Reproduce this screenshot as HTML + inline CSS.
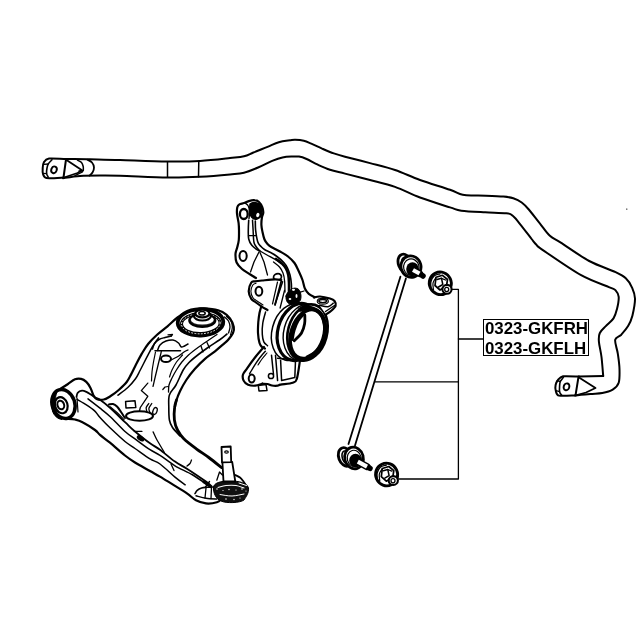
<!DOCTYPE html>
<html><head><meta charset="utf-8"><style>
html,body{margin:0;padding:0;background:#fff;width:640px;height:640px;overflow:hidden}
svg{position:absolute;left:0;top:0}
.lbl{position:absolute;left:483px;top:319.3px;width:104px;height:35.2px;border:1px solid #000;background:#fff;
font-family:"Liberation Sans",sans-serif;font-weight:bold;font-size:16.85px;line-height:19.2px;color:#000}
.lbl div{will-change:transform;position:absolute;left:1.0px;white-space:nowrap}
</style></head><body>
<svg width="640" height="640" viewBox="0 0 640 640" stroke="#000" stroke-linecap="round" stroke-linejoin="round" fill="none">
<path d="M66.0,159.0C70.0,159.1 81.0,159.1 90.0,159.3C99.0,159.5 107.2,159.6 120.0,160.0C132.8,160.4 153.7,161.3 167.0,161.5C180.3,161.7 189.5,161.6 200.0,161.0C210.5,160.4 222.7,158.9 230.0,158.1C237.3,157.3 240.1,157.2 244.0,156.3C247.9,155.4 249.5,154.1 253.4,152.5C257.3,150.9 263.3,148.6 267.5,146.9C271.7,145.2 275.1,143.3 278.8,142.2C282.6,141.1 287.2,140.7 290.0,140.3C292.8,139.9 293.0,139.7 295.3,139.8C297.6,139.9 301.1,140.2 303.8,140.8C306.5,141.4 308.2,142.3 311.3,143.6C314.4,144.9 318.8,147.2 322.5,148.8C326.2,150.4 330.1,152.1 333.8,153.4C337.6,154.7 339.0,155.1 345.0,156.7C351.0,158.3 361.7,160.9 370.0,163.1C378.3,165.3 386.7,167.2 395.0,170.0C403.3,172.8 410.8,176.7 420.0,180.0C429.2,183.3 442.9,187.3 450.0,189.8C457.1,192.3 458.0,193.9 462.7,194.8C467.4,195.8 471.3,195.2 478.1,195.5C484.9,195.8 497.5,196.1 503.4,196.6C509.3,197.1 510.2,197.3 513.3,198.3C516.3,199.3 519.1,200.6 521.7,202.5C524.3,204.4 525.8,206.0 528.8,209.5C531.8,213.0 536.5,219.3 540.0,223.6C543.5,227.9 546.1,232.3 549.6,235.5C553.1,238.7 554.2,238.4 560.8,242.7C567.4,246.9 580.1,256.1 589.2,261.0C598.3,265.9 609.5,269.2 615.6,272.1C621.7,275.0 623.1,275.7 625.8,278.2C628.5,280.7 630.4,283.9 631.9,287.3C633.4,290.7 634.9,293.9 635.0,298.6C635.1,303.4 633.5,311.2 632.4,315.8C631.2,320.4 630.0,323.0 628.1,326.1C626.2,329.2 623.4,332.4 621.3,334.7C619.1,337.0 615.8,336.6 615.2,339.8C614.6,343.0 617.1,348.7 617.8,353.6C618.5,358.5 619.4,364.1 619.5,369.0C619.6,373.9 619.8,379.4 618.7,382.8C617.6,386.2 615.4,388.0 612.7,389.7C610.0,391.4 606.0,392.4 602.3,393.1C598.6,393.8 594.8,393.6 590.3,394.0C585.8,394.4 577.5,395.2 575.0,395.5" stroke-width="2" fill="none" />
<path d="M63.0,178.2C65.8,177.8 73.8,176.4 80.0,176.0C86.2,175.6 93.3,175.6 100.0,175.6C106.7,175.6 108.8,175.5 120.0,175.8C131.2,176.1 154.2,177.3 167.5,177.5C180.8,177.7 189.6,177.3 200.0,176.8C210.4,176.3 222.7,175.2 230.0,174.5C237.3,173.8 239.3,173.9 244.0,172.7C248.7,171.5 253.4,169.5 258.1,167.5C262.8,165.5 268.1,162.6 272.2,160.9C276.3,159.2 279.3,158.1 282.5,157.4C285.7,156.7 288.9,156.6 291.6,156.5C294.4,156.4 296.5,156.2 299.0,156.6C301.5,157.0 303.5,157.7 306.6,159.0C309.7,160.3 313.9,162.9 317.8,164.7C321.7,166.5 325.5,168.3 330.0,169.8C334.5,171.3 338.3,171.9 345.0,173.6C351.7,175.3 361.7,177.8 370.0,180.0C378.3,182.2 386.7,184.0 395.0,186.9C403.3,189.8 410.8,194.1 420.0,197.5C429.2,200.9 443.1,205.2 450.0,207.4C456.9,209.6 455.4,209.9 461.3,210.7C467.2,211.5 477.7,211.9 485.2,212.3C492.7,212.7 501.9,212.8 506.3,213.3C510.8,213.8 510.0,213.9 511.9,215.2C513.8,216.4 514.2,216.8 517.5,220.8C520.8,224.8 528.5,235.0 531.6,239.0C534.8,243.0 534.6,242.9 536.4,244.7C538.2,246.5 535.0,244.7 542.5,249.8C550.0,254.9 569.9,268.9 581.1,275.2C592.3,281.4 603.8,284.8 609.5,287.3C615.2,289.8 614.1,288.8 615.6,290.4C617.1,292.0 618.5,293.8 618.7,296.9C618.9,300.0 617.9,305.3 617.0,308.9C616.1,312.5 615.4,315.5 613.5,318.4C611.6,321.3 608.1,323.7 605.8,326.1C603.5,328.5 600.9,330.4 599.8,333.0C598.6,335.6 598.6,337.6 598.9,341.6C599.2,345.6 600.8,351.3 601.5,357.0C602.2,362.7 602.9,372.8 603.2,376.0" stroke-width="2" fill="none" />
<path d="M603.2,376.0 L579.0,376.5" stroke-width="2" fill="none" />
<path d="M66.0,159.0C63.7,158.9 51.9,158.1 49.0,158.5C46.1,158.9 44.8,160.7 44.0,162.0C43.2,163.3 42.8,166.4 42.7,168.0C42.6,169.6 42.5,172.7 43.0,174.0C43.5,175.3 43.8,177.5 46.5,178.0C49.2,178.5 61.2,177.6 63.5,177.5" stroke-width="2" fill="none" />
<path d="M66.0,159.5 L63.5,177.5" stroke-width="2" fill="none" />
<path d="M52.0,159.8C51.4,160.5 49.1,162.4 48.3,163.8C47.5,165.2 47.3,166.4 47.0,168.0C46.7,169.6 46.4,172.0 46.6,173.5C46.8,175.0 47.9,176.4 48.2,177.0" stroke-width="1.6" fill="none" />
<path d="M43.8,164.4 L48.2,164.0" stroke-width="1.3" fill="none" />
<path d="M43.0,173.3 L46.6,173.7" stroke-width="1.3" fill="none" />
<ellipse cx="54" cy="169.8" rx="2.7" ry="3.4" stroke-width="1.9" fill="none" transform="rotate(20 54 169.8)"/>
<path d="M66.5,160.0 L82.0,170.3 L77.5,173.0 L64.0,177.5" stroke-width="1.8" fill="none" />
<path d="M77.5,160.2C78.2,160.6 80.5,161.4 81.5,162.5C82.5,163.6 82.9,165.2 83.2,166.5C83.5,167.8 83.3,169.8 83.3,170.5" stroke-width="1.5" fill="none" />
<path d="M87.5,159.8C88.2,160.2 90.9,161.2 92.0,162.5C93.1,163.8 93.9,165.8 94.0,167.5C94.1,169.2 93.2,171.2 92.5,172.5C91.8,173.8 90.0,175.1 89.5,175.6" stroke-width="1.8" fill="none" />
<path d="M79.0,171.0 L83.0,170.6 L82.5,171.8 L75.0,175.6" stroke-width="1.3" fill="none" />
<path d="M167.5,161.8 L167.5,177.3" stroke-width="1.5" fill="none" />
<path d="M198.8,161.2 L198.5,176.8" stroke-width="1.5" fill="none" />
<path d="M579.0,376.5C576.9,376.5 565.8,375.8 563.0,376.3C560.2,376.8 559.0,378.8 558.0,380.0C557.0,381.2 555.9,383.5 555.6,385.0C555.3,386.5 555.3,389.6 555.8,391.0C556.3,392.4 556.4,395.0 559.0,395.6C561.6,396.2 572.9,395.5 575.0,395.5" stroke-width="2" fill="none" />
<path d="M578.5,376.8 L575.5,395.3" stroke-width="2" fill="none" />
<path d="M563.4,377.3C562.9,378.0 560.9,380.1 560.3,381.5C559.7,382.9 559.7,384.3 559.6,386.0C559.5,387.7 559.3,390.3 559.6,391.8C559.9,393.3 561.2,394.5 561.5,395.0" stroke-width="1.6" fill="none" />
<path d="M557.0,380.6 L560.3,381.5" stroke-width="1.3" fill="none" />
<path d="M556.0,390.6 L559.6,391.6" stroke-width="1.3" fill="none" />
<ellipse cx="566.5" cy="386.8" rx="2.8" ry="3.5" stroke-width="1.9" fill="none" transform="rotate(20 566.5 386.8)"/>
<path d="M579.0,377.5 L595.5,388.0 L586.0,392.5 L576.0,395.3" stroke-width="1.8" fill="none" />
<circle cx="626.8" cy="209.1" r="0.7" fill="#000" stroke="none"/>
<path d="M451.3,289.3 L458.4,289.3 L458.4,479.0 L398.8,479.0" stroke-width="1.3" fill="none" />
<path d="M458.4,339.0 L483.0,339.0" stroke-width="1.3" fill="none" />
<path d="M374.7,381.9 L458.4,381.9" stroke-width="1.3" fill="none" />
<path d="M400.4,276.7 L348.5,444.0" stroke-width="1.8" fill="none" />
<path d="M405.9,278.4 L355.0,445.5" stroke-width="1.8" fill="none" />
<ellipse cx="405" cy="263.5" rx="6.6" ry="9.6" stroke-width="2.8" fill="#fff" transform="rotate(-20 405 263.5)"/>
<ellipse cx="406.2" cy="264.0" rx="4.2" ry="6.8" stroke-width="1.6" fill="none" transform="rotate(-20 406.2 264.0)"/>
<ellipse cx="411" cy="266.6" rx="10" ry="10.8" stroke-width="2.8" fill="#fff" transform="rotate(-15 411 266.6)"/>
<ellipse cx="411.3" cy="267.20000000000005" rx="7.7" ry="8.3" stroke-width="1.2" fill="none" transform="rotate(-15 411.3 267.20000000000005)"/>
<ellipse cx="412.5" cy="269.1" rx="6.3" ry="6.8" stroke-width="0" fill="#000" transform="rotate(0 412.5 269.1)"/>
<path d="M413.0,270.0 L419.5,273.5" stroke-width="7" fill="none" />
<path d="M419.5,273.5 L423.0,276.0" stroke-width="5.5" fill="none" />
<path d="M413,270L419.5,273.5" stroke="#fff" stroke-width="4.2" stroke-linecap="butt"/>
<ellipse cx="440.3" cy="283.3" rx="11.0" ry="11.4" stroke-width="2.8" fill="#fff" transform="rotate(-25 440.3 283.3)"/>
<path d="M431.0,289.0C431.0,287.8 430.3,284.2 430.8,282.0C431.3,279.8 432.5,277.4 434.0,276.0C435.5,274.6 439.0,274.2 440.0,273.8" stroke-width="1.4" fill="none" />
<path d="M433.5,290.0C433.4,288.8 432.6,285.1 433.0,283.0C433.4,280.9 435.5,278.4 436.0,277.5" stroke-width="1.2" fill="none" />
<path d="M436.0,277.3 L442.5,275.3 L447.5,279.5 L446.5,286.0 L440.0,290.0 L435.0,285.5Z" stroke-width="1.7" fill="#fff" />
<path d="M437.0,279.5 L441.5,278.3 L442.8,284.5 L438.5,287.0" stroke-width="1.5" fill="none" />
<path d="M441.5,278.3 L445.5,280.0" stroke-width="1.3" fill="none" />
<ellipse cx="447" cy="289.3" rx="4.6" ry="4.4" stroke-width="2.1" fill="#fff" transform="rotate(0 447 289.3)"/>
<ellipse cx="446.7" cy="289.5" rx="2.0" ry="2.1" stroke-width="1.3" fill="none" transform="rotate(0 446.7 289.5)"/>
<ellipse cx="345.3" cy="457" rx="6.6" ry="9.6" stroke-width="2.8" fill="#fff" transform="rotate(-20 345.3 457)"/>
<ellipse cx="346.5" cy="457.5" rx="4.2" ry="6.8" stroke-width="1.6" fill="none" transform="rotate(-20 346.5 457.5)"/>
<ellipse cx="354" cy="458" rx="9.3" ry="10.9" stroke-width="2.8" fill="#fff" transform="rotate(-15 354 458)"/>
<ellipse cx="354.3" cy="458.6" rx="7.000000000000001" ry="8.4" stroke-width="1.2" fill="none" transform="rotate(-15 354.3 458.6)"/>
<ellipse cx="355.5" cy="460.5" rx="6.3" ry="6.8" stroke-width="0" fill="#000" transform="rotate(0 355.5 460.5)"/>
<path d="M357.8,461.7 L367.0,466.6" stroke-width="7" fill="none" />
<path d="M367.0,466.6 L370.0,468.3" stroke-width="5.5" fill="none" />
<path d="M357.8,461.7L367,466.6" stroke="#fff" stroke-width="4.2" stroke-linecap="butt"/>
<ellipse cx="386.6" cy="474.5" rx="11.0" ry="11.4" stroke-width="2.8" fill="#fff" transform="rotate(-25 386.6 474.5)"/>
<path d="M377.3,480.2C377.3,479.0 376.6,475.4 377.1,473.2C377.6,471.0 378.8,468.6 380.3,467.2C381.8,465.8 385.3,465.4 386.3,465.0" stroke-width="1.4" fill="none" />
<path d="M379.8,481.2C379.7,480.0 378.9,476.3 379.3,474.2C379.7,472.1 381.8,469.6 382.3,468.7" stroke-width="1.2" fill="none" />
<path d="M382.3,468.5 L388.8,466.5 L393.8,470.7 L392.8,477.2 L386.3,481.2 L381.3,476.7Z" stroke-width="1.7" fill="#fff" />
<path d="M383.3,470.7 L387.8,469.5 L389.1,475.7 L384.8,478.2" stroke-width="1.5" fill="none" />
<path d="M387.8,469.5 L391.8,471.2" stroke-width="1.3" fill="none" />
<ellipse cx="393.3" cy="480.5" rx="4.6" ry="4.4" stroke-width="2.1" fill="#fff" transform="rotate(0 393.3 480.5)"/>
<ellipse cx="393.0" cy="480.7" rx="2.0" ry="2.1" stroke-width="1.3" fill="none" transform="rotate(0 393.0 480.7)"/>
<path d="M261,306 C258.5,315 257.5,328 258.3,338 C259,344 261,347 265,348 L300,362 L318,340 L318,300 L290,296 Z" stroke-width="0" fill="#fff" />
<ellipse cx="292.5" cy="332" rx="20.5" ry="29" stroke-width="1.5" fill="#fff" transform="rotate(15 292.5 332)"/>
<ellipse cx="298.3" cy="332" rx="20.5" ry="29" stroke-width="3.2" fill="#fff" transform="rotate(15 298.3 332)"/>
<ellipse cx="304.3" cy="332.5" rx="20.5" ry="28.6" stroke-width="1.4" fill="#fff" transform="rotate(15 304.3 332.5)"/>
<ellipse cx="307.5" cy="332.5" rx="19.5" ry="28.6" stroke-width="2.6" fill="#fff" transform="rotate(15 307.5 332.5)"/>
<ellipse cx="307.5" cy="334" rx="16.3" ry="25.3" stroke-width="3.6" fill="#fff" transform="rotate(18 307.5 334)"/>
<path d="M300.0,309.8C301.2,309.5 304.8,308.0 307.0,307.8C309.2,307.6 311.4,308.0 313.5,308.8C315.6,309.6 317.8,310.8 319.5,312.5C321.2,314.2 322.6,316.4 323.5,319.0C324.4,321.6 325.1,324.8 325.2,328.0C325.3,331.2 325.0,334.9 324.3,338.0C323.6,341.1 322.4,343.9 320.8,346.5C319.2,349.1 316.7,351.5 314.5,353.3C312.3,355.1 308.7,356.6 307.5,357.3" stroke-width="4" fill="none" />
<path d="M303.8,314.0C302.9,315.1 299.8,317.9 298.2,320.6C296.6,323.3 295.2,326.9 294.2,330.0C293.2,333.1 292.6,337.9 292.3,339.5" stroke-width="2.8" fill="none" />
<path d="M304.8,315.0C304.8,316.5 305.2,320.8 304.6,323.8C304.1,326.8 303.2,330.2 301.5,333.0C299.8,335.8 295.4,339.5 294.2,340.8" stroke-width="2.8" fill="none" />
<path d="M261.3,306.3C261.0,307.4 260.0,310.4 259.5,313.0C259.0,315.6 258.6,318.7 258.3,322.0C258.1,325.3 257.8,329.5 258.0,333.0C258.2,336.5 258.8,340.7 259.5,343.0C260.2,345.3 261.1,346.1 262.0,347.0C262.9,347.9 264.5,348.2 265.0,348.5" stroke-width="2.2" fill="none" />
<path d="M265.6,311.9C265.1,313.8 263.4,319.2 262.8,323.0C262.2,326.8 262.1,331.2 262.3,334.4C262.5,337.5 262.9,340.0 263.8,341.9C264.7,343.8 266.9,345.0 267.5,345.6" stroke-width="1.5" fill="none" />
<path d="M256.0,278.0C254.8,277.2 250.8,274.9 248.5,273.4C246.2,271.9 244.0,270.8 242.0,269.0C240.0,267.2 237.7,265.0 236.6,262.5C235.5,260.0 235.4,256.4 235.5,253.8C235.6,251.2 236.8,249.3 237.3,247.0C237.9,244.7 238.5,242.8 238.8,240.0C239.1,237.2 239.0,232.8 239.0,230.0C239.0,227.2 238.9,225.7 238.6,223.0C238.3,220.3 237.2,216.3 237.0,213.7C236.8,211.1 236.9,208.8 237.3,207.2C237.7,205.6 238.3,205.1 239.4,204.4C240.5,203.7 242.4,203.6 244.0,203.0C245.6,202.4 247.1,201.6 248.8,201.1C250.5,200.6 252.7,200.0 254.4,200.2C256.1,200.3 257.7,200.8 259.0,202.0C260.3,203.2 261.6,205.4 262.3,207.2C263.0,209.0 263.4,211.1 263.3,212.8C263.2,214.5 262.2,215.5 261.9,217.5C261.6,219.5 261.3,222.6 261.4,225.0C261.5,227.4 262.0,229.6 262.5,232.0C263.0,234.4 263.7,237.5 264.5,239.5C265.3,241.5 266.4,242.8 267.5,244.0C268.6,245.2 269.2,245.8 271.3,247.0C273.4,248.2 277.2,249.9 280.0,251.5C282.8,253.1 285.6,254.6 288.0,256.5C290.4,258.4 292.7,260.5 294.5,263.0C296.3,265.5 297.5,268.5 298.8,271.3C300.1,274.1 301.5,277.1 302.5,280.0C303.5,282.9 303.9,286.5 305.0,288.8C306.1,291.1 307.1,292.4 308.8,293.8C310.5,295.2 314.0,296.9 315.0,297.5" stroke-width="2.2" fill="none" />
<path d="M314.0,297.5C315.0,297.3 317.3,296.3 320.0,296.5C322.7,296.7 327.6,297.8 330.0,298.5C332.4,299.2 333.6,299.8 334.5,301.0C335.4,302.2 336.2,304.3 335.6,306.0C335.0,307.7 332.6,309.6 331.0,311.0C329.4,312.4 326.8,313.9 326.0,314.5" stroke-width="2.2" fill="#fff" />
<ellipse cx="322.8" cy="301.1" rx="3.9" ry="1.6" stroke-width="1.6" fill="none" transform="rotate(0 322.8 301.1)"/>
<ellipse cx="322.8" cy="301.3" rx="5.6" ry="2.9" stroke-width="1.1" fill="none" transform="rotate(0 322.8 301.3)"/>
<path d="M319.6,305.3C321.0,305.5 325.7,307.1 328.0,306.7C330.3,306.3 332.4,303.8 333.3,303.2" stroke-width="1.5" fill="none" />
<path d="M325.5,311.5 L334.5,305.5" stroke-width="1.4" fill="none" />
<ellipse cx="243.8" cy="214" rx="3.9" ry="5" stroke-width="2.3" fill="none" transform="rotate(0 243.8 214)"/>
<path d="M245.0,203.0C245.6,203.5 247.6,204.5 248.3,206.0C249.1,207.5 249.4,209.9 249.5,212.0C249.6,214.1 249.1,217.4 249.0,218.5" stroke-width="1.4" fill="none" />
<ellipse cx="243.1" cy="255.9" rx="3.6" ry="5" stroke-width="2" fill="none" transform="rotate(0 243.1 255.9)"/>
<path d="M250,204 C254,201 260,203 261.5,208 C263,214 261,218 257,219 C253,220 249.5,216 249.5,211 Z" stroke-width="1.5" fill="#000" />
<ellipse cx="257.8" cy="215" rx="1.6" ry="2.2" stroke-width="0" fill="#fff" transform="rotate(20 257.8 215)"/>
<path d="M248.7,220.3C248.6,221.9 248.3,226.6 248.3,229.7C248.3,232.8 248.1,236.4 248.7,239.0C249.3,241.6 250.5,243.6 251.8,245.3C253.1,247.0 255.2,248.4 256.5,249.3C257.8,250.2 259.1,250.6 259.6,250.8" stroke-width="1.6" fill="none" />
<path d="M252.5,220.3C252.6,221.9 252.9,226.4 253.1,230.0C253.3,233.6 253.4,239.2 253.9,242.0C254.4,244.8 255.1,245.0 256.0,246.5C256.9,248.0 259.0,250.1 259.6,250.8" stroke-width="1.5" fill="none" />
<path d="M248.5,235.6 L256.3,235.6" stroke-width="1.3" fill="none" />
<path d="M255.3,221.0C255.4,222.5 255.2,226.5 255.6,230.0C256.0,233.5 256.9,239.2 257.8,242.0C258.7,244.8 259.9,245.2 261.0,246.5C262.1,247.8 263.0,248.5 264.5,249.5C266.0,250.5 268.0,251.2 270.0,252.3C272.0,253.4 274.0,254.3 276.3,256.0C278.6,257.7 281.9,260.5 283.8,262.5C285.7,264.5 286.5,265.9 287.5,268.0C288.5,270.1 289.4,272.5 290.0,275.0C290.6,277.5 291.1,280.3 291.3,283.0C291.6,285.7 291.5,289.7 291.5,291.0" stroke-width="1.6" fill="none" />
<path d="M259.6,250.8C260.8,251.5 264.4,253.6 267.0,255.0C269.6,256.4 273.0,258.0 275.3,259.4C277.6,260.8 280.1,262.8 281.0,263.5" stroke-width="1.3" fill="none" />
<path d="M276.0,259.0C277.0,259.8 280.3,261.9 282.0,263.5C283.7,265.1 284.9,266.6 286.0,268.5C287.1,270.4 287.8,272.6 288.3,275.0C288.8,277.4 288.9,280.2 289.0,283.0C289.1,285.8 289.0,290.5 289.0,292.0" stroke-width="2.6" fill="none" />
<path d="M273.5,262.0C274.5,262.8 277.9,265.2 279.5,267.0C281.1,268.8 282.1,270.7 283.0,273.0C283.9,275.3 284.3,277.8 284.6,281.0C284.9,284.2 284.9,290.2 285.0,292.0" stroke-width="1.3" fill="none" />
<path d="M260.0,252.5 L264.0,262.0 L267.5,275.0" stroke-width="1.3" fill="none" />
<path d="M259.0,252.0 L254.0,262.0 L250.5,272.0" stroke-width="1.3" fill="none" />
<ellipse cx="277.5" cy="277" rx="4" ry="3.3" stroke-width="1.8" fill="#fff" transform="rotate(-20 277.5 277)"/>
<path d="M275.0,279.5 L276.0,283.0" stroke-width="1.3" fill="none" />
<path d="M286,296 C287,292 290,290 292,289 C294,287.5 298,287.8 299.5,290.5 C301,293 301.5,297 300.5,300 C299,303 295,304.5 291,304.3 C288,304 285.5,301 286,296 Z" stroke-width="1" fill="#000" />
<ellipse cx="293.5" cy="289.8" rx="1.6" ry="1.1" stroke-width="0" fill="#fff" transform="rotate(0 293.5 289.8)"/>
<ellipse cx="296.5" cy="296" rx="1" ry="2" stroke-width="0" fill="#fff" transform="rotate(0 296.5 296)"/>
<ellipse cx="290" cy="299" rx="1.3" ry="1" stroke-width="0" fill="#fff" transform="rotate(0 290 299)"/>
<path d="M299.5,292.4 L304.0,291.0" stroke-width="1.3" fill="none" />
<path d="M282.6,281.8 L275.1,304.3" stroke-width="1.5" fill="none" />
<path d="M284.5,290.5 L280.1,308.0" stroke-width="1.3" fill="none" />
<path d="M281.3,280.0C280.2,279.9 278.2,279.3 275.0,279.4C271.8,279.5 265.3,280.2 262.0,280.5C258.7,280.8 256.8,281.0 255.0,281.3C253.2,281.6 252.4,280.8 251.3,282.5C250.2,284.2 248.7,288.6 248.7,291.3C248.7,294.0 250.1,296.9 251.3,298.8C252.5,300.7 254.3,301.2 256.0,302.5C257.7,303.8 259.4,305.1 261.3,306.3C263.2,307.6 266.5,309.4 267.5,310.0" stroke-width="2.2" fill="#fff" />
<path d="M281.3,281.0 L275.0,305.0" stroke-width="1.8" fill="none" />
<path d="M277.5,282.0 L272.5,304.0" stroke-width="1.2" fill="none" />
<path d="M256.0,283.3C255.5,283.6 253.7,283.7 252.8,285.0C252.0,286.3 250.9,289.2 250.9,291.3C250.9,293.4 251.8,295.9 252.8,297.5C253.8,299.1 255.3,299.8 257.0,301.0C258.7,302.2 262.0,304.3 263.0,305.0" stroke-width="1.1" fill="none" />
<ellipse cx="258.9" cy="291.3" rx="3.4" ry="4.5" stroke-width="2" fill="none" transform="rotate(0 258.9 291.3)"/>
<path d="M264.0,347.0C262.5,348.7 258.0,353.7 255.2,357.3C252.4,360.9 249.1,365.5 247.1,368.4C245.1,371.3 243.6,372.5 243.0,374.5C242.4,376.5 242.8,378.9 243.6,380.6C244.4,382.3 246.2,383.9 248.1,384.7C250.0,385.5 252.8,385.9 255.2,385.7C257.6,385.5 261.1,384.0 262.3,383.7" stroke-width="2.2" fill="#fff" />
<path d="M262.3,383.7C263.1,383.8 265.8,383.7 267.4,384.0C269.0,384.3 270.3,385.2 272.0,385.5C273.7,385.8 276.2,385.8 277.6,385.7C279.0,385.6 278.1,385.2 280.6,384.7C283.1,384.2 290.1,383.7 292.8,382.7C295.5,381.7 295.7,382.3 296.9,378.6C298.1,374.9 299.5,363.4 300.0,360.3" stroke-width="2.2" fill="none" />
<path d="M265.4,351.2C264.5,352.2 261.7,355.3 260.0,357.5C258.3,359.7 256.6,362.2 255.2,364.4C253.8,366.6 252.4,368.9 251.5,370.5C250.6,372.1 249.8,373.4 249.5,374.0" stroke-width="1.4" fill="none" />
<path d="M267.0,353.0C266.2,354.0 263.5,357.0 262.0,359.0C260.5,361.0 258.7,364.0 258.0,365.0" stroke-width="1.1" fill="none" />
<ellipse cx="251.7" cy="378.6" rx="3" ry="4" stroke-width="2" fill="none" transform="rotate(0 251.7 378.6)"/>
<path d="M271.5,355.2 L273.5,374.5" stroke-width="1.5" fill="none" />
<path d="M275.5,355.2 L277.6,380.6" stroke-width="1.5" fill="none" />
<path d="M277.6,358.3 L300.0,360.3" stroke-width="1.5" fill="none" />
<path d="M280.6,360.3 L281.6,380.6 L294.8,377.6 L295.5,361.0" stroke-width="1.5" fill="none" />
<ellipse cx="271" cy="376" rx="2.6" ry="2.6" stroke-width="1.5" fill="#fff" transform="rotate(0 271 376)"/>
<path d="M258.3,385.5 L266.0,384.5 L267.0,390.5 L259.0,391.0Z" stroke-width="1.5" fill="#fff" />
<path d="M93.0,394.8C93.6,395.5 94.8,398.2 96.6,399.0C98.4,399.8 101.5,399.9 103.8,399.5C106.1,399.1 107.8,397.9 110.3,396.3C112.8,394.7 116.3,392.1 119.0,389.7C121.7,387.3 124.7,384.6 126.7,382.0C128.7,379.4 129.5,377.3 131.1,374.4C132.7,371.5 134.2,368.0 136.0,364.5C137.8,361.0 139.8,357.1 141.8,353.6C143.9,350.2 145.8,346.9 148.3,343.8C150.8,340.7 153.6,337.9 156.8,335.0C160.0,332.1 164.1,329.2 167.5,326.3C170.9,323.4 174.2,319.9 177.5,317.5C180.8,315.1 183.2,313.5 187.0,312.0C190.8,310.5 195.8,309.0 200.0,308.5C204.2,308.0 208.2,308.4 212.0,309.0C215.8,309.6 219.5,310.4 222.5,312.0C225.5,313.6 228.1,316.0 230.0,318.5C231.9,321.0 233.3,324.6 233.8,327.0C234.3,329.4 234.0,330.8 233.0,333.0C232.0,335.2 229.5,338.2 228.0,340.0C226.5,341.8 226.0,341.9 223.8,343.8C221.6,345.7 218.1,348.8 215.0,351.3C211.9,353.8 208.3,355.9 205.0,358.8C201.7,361.7 198.1,365.3 195.0,368.8C191.9,372.3 188.8,376.2 186.3,380.0C183.8,383.8 181.6,388.0 180.0,391.3C178.4,394.6 177.4,397.3 176.5,400.0C175.6,402.7 175.1,406.2 174.8,407.5" stroke-width="2.2" fill="none" />
<path d="M176.5,400.0C176.2,401.2 174.9,404.2 174.6,407.5C174.2,410.8 173.9,416.2 174.4,420.0C174.9,423.8 175.9,426.9 177.5,430.0C179.1,433.1 180.7,435.7 183.8,438.8C186.9,441.9 192.1,445.7 196.3,448.8C200.5,451.9 204.6,454.4 208.8,457.5C213.0,460.6 219.2,465.8 221.3,467.5" stroke-width="2.8" fill="none" />
<path d="M67.0,418.8C68.3,418.9 72.4,418.9 75.0,419.5C77.6,420.1 79.2,420.4 82.5,422.2C85.8,423.9 92.1,427.9 95.0,430.0C97.9,432.1 97.5,432.8 100.0,434.9C102.5,437.0 105.8,439.3 110.0,442.7C114.2,446.1 120.8,452.2 125.0,455.5C129.2,458.8 130.8,459.9 135.0,462.5C139.2,465.1 145.8,468.6 150.0,471.0C154.2,473.4 155.8,474.1 160.0,476.6C164.2,479.1 170.4,483.1 175.0,485.9C179.6,488.7 183.8,491.2 187.3,493.6C190.8,496.0 192.9,498.6 196.0,500.2C199.1,501.8 202.5,503.0 206.0,503.4C209.5,503.8 214.3,503.0 216.9,502.3C219.5,501.6 220.6,499.6 221.3,499.0" stroke-width="2.2" fill="none" />
<path d="M60.5,388.8C61.8,388.0 65.6,385.6 68.0,384.0C70.4,382.4 72.8,380.2 75.0,379.3C77.2,378.4 79.2,378.5 81.1,378.9C83.0,379.3 84.7,380.4 86.3,381.9C87.9,383.4 89.4,385.8 90.5,387.9C91.6,390.0 92.7,393.6 93.1,394.8" stroke-width="2.2" fill="none" />
<ellipse cx="63.5" cy="404" rx="11.3" ry="14.8" stroke-width="3.5" fill="#fff" transform="rotate(-18 63.5 404)"/>
<ellipse cx="61.3" cy="405.2" rx="6.2" ry="8.2" stroke-width="2.2" fill="none" transform="rotate(-18 61.3 405.2)"/>
<path d="M57.5,391 C52,395 51,404 52.5,411 C54,416 58,419 62,419.5 C57,415 54.5,409 55,401 C55.5,396 56.5,393 57.5,391 Z" stroke-width="1" fill="#000" />
<ellipse cx="60.8" cy="405" rx="3.3" ry="4.4" stroke-width="2" fill="none" transform="rotate(-18 60.8 405)"/>
<path d="M77.0,398.0 L78.0,412.0" stroke-width="1.2" fill="none" />
<path d="M76.5,397.0C76.7,396.3 76.8,393.9 77.7,392.8C78.6,391.8 80.5,390.9 82.0,390.7C83.5,390.5 84.9,391.2 86.4,391.8C87.9,392.4 89.4,393.6 90.8,394.5C92.2,395.4 93.5,396.6 95.0,397.5C96.5,398.4 97.5,398.1 100.0,399.8C102.5,401.5 105.8,404.1 110.0,407.8C114.2,411.5 120.8,418.2 125.0,422.2C129.2,426.1 130.8,428.0 135.0,431.5C139.2,435.0 145.8,440.3 150.0,443.3C154.2,446.3 155.8,446.6 160.0,449.7C164.2,452.8 170.4,458.4 175.0,461.6C179.6,464.8 182.1,465.7 187.3,469.0C192.5,472.3 202.0,478.8 206.0,481.6C210.0,484.4 210.5,485.3 211.4,486.0" stroke-width="1.8" fill="none" />
<path d="M88.0,398.9C90.0,400.4 96.3,405.3 100.0,408.2C103.7,411.1 105.8,412.6 110.0,416.5C114.2,420.4 120.8,427.8 125.0,431.5C129.2,435.2 130.8,435.9 135.0,438.9C139.2,441.9 145.8,447.0 150.0,449.7C154.2,452.4 155.8,452.6 160.0,455.3C164.2,458.0 169.5,462.5 175.0,465.8C180.5,469.1 187.1,471.6 192.8,475.0C198.5,478.4 206.5,484.2 209.2,486.0" stroke-width="1.5" fill="none" />
<path d="M77.1,399.4C78.6,400.3 83.5,403.0 86.4,404.9C89.3,406.8 92.3,408.8 94.6,410.9C96.9,413.0 97.4,414.7 100.0,417.5C102.6,420.3 105.8,423.8 110.0,427.8C114.2,431.8 120.8,438.1 125.0,441.5C129.2,444.9 130.8,445.6 135.0,448.5C139.2,451.4 145.8,456.3 150.0,458.9C154.2,461.5 155.8,461.0 160.0,464.0C164.2,467.0 170.8,473.6 175.0,477.1C179.2,480.6 183.5,483.5 185.2,484.8" stroke-width="1.5" fill="none" />
<path d="M109.0,404.5C109.7,404.4 111.7,403.7 113.0,404.0C114.3,404.3 115.7,405.2 117.0,406.5C118.3,407.8 119.7,410.1 121.0,412.0C122.3,413.9 124.3,417.0 125.0,418.0" stroke-width="2" fill="none" />
<path d="M110.5,407.0C111.6,407.9 114.8,410.4 117.0,412.5C119.2,414.6 122.8,418.3 124.0,419.5" stroke-width="1.2" fill="none" />
<ellipse cx="140.5" cy="438.3" rx="4.2" ry="2.4" stroke-width="0" fill="#000" transform="rotate(35 140.5 438.3)"/>
<path d="M134.4,431.4 L141.9,431.4" stroke-width="1.3" fill="none" />
<path d="M153.1,431.9C153.8,433.2 155.1,436.6 157.0,440.0C158.9,443.4 163.2,450.4 164.4,452.5" stroke-width="1.3" fill="none" />
<path d="M203.6,481.8 L211.0,486.8" stroke-width="2.6" fill="none" />
<path d="M205.5,487.0 L209.5,481.5" stroke-width="1.4" fill="none" />
<path d="M195.0,493.6C195.4,493.1 196.1,491.2 197.2,490.3C198.3,489.4 200.0,488.6 201.6,488.1C203.2,487.6 205.2,487.5 207.0,487.3C208.8,487.1 211.6,487.1 212.5,487.0" stroke-width="1.6" fill="none" />
<path d="M196.0,495.8C197.7,496.2 202.5,497.7 206.0,498.2C209.5,498.7 215.1,498.9 216.9,499.0" stroke-width="1.4" fill="none" />
<path d="M206.0,488.0 L205.0,498.0" stroke-width="1.3" fill="none" />
<path d="M211.5,487.5 L211.0,498.5" stroke-width="1.3" fill="none" />
<path d="M171.0,464.0 L174.0,470.6" stroke-width="1.3" fill="none" />
<path d="M187.0,466.0C187.5,465.6 189.2,464.5 190.0,463.5C190.8,462.5 191.2,460.6 191.5,460.0" stroke-width="1.3" fill="none" />
<path d="M118.0,395.2C119.6,393.9 124.9,390.2 127.8,387.5C130.7,384.8 133.4,381.7 135.5,378.8C137.6,375.9 138.4,373.6 140.3,370.0C142.2,366.4 145.0,360.7 147.0,356.9C149.0,353.1 150.4,350.2 152.3,347.0C154.2,343.8 157.5,339.3 158.5,337.8" stroke-width="1.5" fill="none" />
<path d="M153.0,386.4C153.4,384.8 154.3,380.7 155.2,377.0C156.1,373.3 157.4,367.7 158.3,364.0C159.2,360.3 160.0,357.1 160.5,355.0C161.0,352.9 161.2,352.1 161.3,351.5" stroke-width="1.3" fill="none" />
<path d="M227.0,334.0C225.7,335.0 222.6,337.8 219.4,340.0C216.2,342.2 211.6,345.0 208.0,347.5C204.4,350.0 201.0,352.5 197.8,355.0C194.6,357.5 191.4,360.0 189.0,362.5C186.6,365.0 185.4,366.2 183.2,370.0C181.0,373.8 178.3,380.8 176.0,385.0C173.7,389.2 170.6,391.2 169.4,395.0C168.2,398.8 168.8,403.3 168.8,407.5C168.8,411.7 168.8,416.7 169.4,420.0C170.0,423.3 170.7,424.8 172.5,427.5C174.3,430.2 178.8,434.6 180.0,436.0" stroke-width="1.6" fill="none" />
<path d="M217.0,334.5C215.6,335.4 212.0,337.8 208.8,340.0C205.6,342.2 201.4,345.0 198.0,347.5C194.6,350.0 191.2,352.5 188.5,355.0C185.8,357.5 183.5,360.0 181.5,362.5C179.5,365.0 178.0,367.4 176.4,370.0C174.8,372.6 173.2,375.5 172.0,378.0C170.8,380.5 169.6,382.7 169.0,385.0C168.4,387.3 168.6,390.8 168.5,392.0" stroke-width="1.3" fill="none" />
<path d="M182.5,355.0C181.5,356.2 178.2,359.5 176.5,362.0C174.8,364.5 173.2,367.5 172.0,370.0C170.8,372.5 169.9,375.8 169.5,377.0" stroke-width="1.2" fill="none" />
<path d="M201.0,346.0 L203.0,352.0" stroke-width="1.3" fill="none" />
<path d="M207.0,342.5 L209.5,348.0" stroke-width="1.3" fill="none" />
<ellipse cx="139.5" cy="416" rx="13.5" ry="4.7" stroke-width="2" fill="#fff" transform="rotate(0 139.5 416)"/>
<path d="M125.6,401.5 L135.0,400.8 L135.8,407.5 L126.0,408.0Z" stroke-width="1.5" fill="none" />
<path d="M148.8,403.5C148.4,404.2 146.5,406.2 146.2,407.5C145.9,408.8 146.8,410.8 146.9,411.5" stroke-width="1.3" fill="none" />
<path d="M151.8,403.5C151.3,404.3 149.2,406.8 148.9,408.4C148.6,410.0 150.0,412.5 150.2,413.3" stroke-width="1.3" fill="none" />
<ellipse cx="155" cy="411" rx="2" ry="3.6" stroke-width="1.3" fill="none" transform="rotate(20 155 411)"/>
<path d="M147.8,383.1 L141.3,390.6 L147.8,396.3 L140.3,407.5 L139.5,411.0" stroke-width="1.3" fill="none" />
<path d="M162.8,389.5 L165.0,387.0 L168.4,386.5" stroke-width="1.2" fill="none" />
<path d="M155.5,352.0C155.2,353.7 154.1,358.7 153.5,362.0C152.9,365.3 152.3,368.8 152.0,372.0C151.7,375.2 151.6,379.5 151.5,381.0" stroke-width="1.2" fill="none" />
<path d="M152.5,349.0C152.8,348.1 153.4,345.1 154.5,343.5C155.6,341.9 157.2,340.5 159.0,339.5C160.8,338.5 162.9,338.1 165.0,337.5C167.1,336.9 170.2,336.2 171.3,336.0" stroke-width="1.5" fill="none" />
<path d="M171.3,336.0 L172.5,334.5 L168.0,334.8" stroke-width="1.3" fill="none" />
<path d="M157.5,350.5C157.9,349.6 158.6,346.6 160.0,345.0C161.4,343.4 163.8,341.8 166.0,341.0C168.2,340.2 170.9,339.7 173.0,340.0C175.1,340.3 177.1,341.8 178.5,343.0C179.9,344.2 180.3,346.5 181.3,347.0C182.3,347.5 183.4,346.5 184.5,346.0C185.6,345.5 187.4,344.3 188.0,344.0" stroke-width="1.5" fill="none" />
<path d="M155.0,350.8 L180.5,350.8" stroke-width="1.5" fill="none" />
<ellipse cx="166" cy="358.8" rx="5" ry="3.3" stroke-width="2" fill="#fff" transform="rotate(0 166 358.8)"/>
<path d="M171.0,360.0C172.0,359.5 174.8,358.3 177.0,357.0C179.2,355.7 182.2,353.2 184.0,352.0C185.8,350.8 187.3,350.3 188.0,350.0" stroke-width="1.3" fill="none" />
<ellipse cx="200.5" cy="322.3" rx="22.8" ry="13.2" stroke-width="3.8" fill="#fff" transform="rotate(-2 200.5 322.3)"/>
<ellipse cx="200.8" cy="323.5" rx="19.3" ry="10.1" stroke-width="3" fill="#fff" transform="rotate(-2 200.8 323.5)"/>
<ellipse cx="200.8" cy="323.7" rx="19.3" ry="10.1" stroke="#fff" stroke-width="0.9" stroke-dasharray="1 2.2" fill="none" transform="rotate(-2 200.8 323.7)"/>
<ellipse cx="202.3" cy="320.5" rx="13" ry="6.3" stroke-width="2.2" fill="#222" transform="rotate(0 202.3 320.5)"/>
<ellipse cx="202.3" cy="319.8" rx="11.5" ry="4.8" stroke-width="0" fill="#fff" transform="rotate(0 202.3 319.8)"/>
<ellipse cx="202.4" cy="316" rx="8.5" ry="4.5" stroke-width="2.2" fill="#fff" transform="rotate(0 202.4 316)"/>
<ellipse cx="202.4" cy="313.5" rx="7" ry="3.9" stroke-width="2.2" fill="#fff" transform="rotate(0 202.4 313.5)"/>
<ellipse cx="202" cy="313.2" rx="3.2" ry="1.8" stroke-width="1.5" fill="none" transform="rotate(0 202 313.2)"/>
<path d="M224.5,317.0C225.2,317.7 227.6,319.3 228.5,321.0C229.4,322.7 230.0,325.0 230.0,327.0C230.0,329.0 228.8,332.0 228.5,333.0" stroke-width="1.3" fill="none" />
<path d="M226.5,316.5C227.2,317.2 230.0,319.2 231.0,321.0C232.0,322.8 232.4,325.2 232.3,327.5C232.2,329.8 230.8,333.8 230.5,335.0" stroke-width="1.2" fill="none" />
<path d="M235.3,475.0C236.1,475.4 238.6,476.4 240.0,477.5C241.4,478.6 242.3,479.9 243.5,481.5C244.7,483.1 246.6,486.4 247.2,487.4" stroke-width="1.8" fill="none" />
<path d="M213.5,487 C214,483 220,481 230,481 C240,481 247,483 248.5,488 C249,493 246,497 244,500 C240,503 226,503.5 221,501 C216,499 213,493 213.5,487 Z" stroke-width="1" fill="#111" />
<path stroke="#fff" d="M218.0,487.5C219.3,487.2 223.0,485.8 226.0,485.5C229.0,485.2 233.0,485.1 236.0,485.5C239.0,485.9 242.7,487.6 244.0,488.0" stroke-width="1.1" fill="none" />
<path stroke="#fff" d="M220.0,494.5C222.0,494.8 228.0,496.1 232.0,496.0C236.0,495.9 242.0,494.3 244.0,494.0" stroke-width="1.0" fill="none" />
<circle cx="217" cy="489" r="0.72" fill="#fff" stroke="none"/>
<circle cx="223" cy="490.5" r="0.60" fill="#fff" stroke="none"/>
<circle cx="229" cy="489.5" r="0.66" fill="#fff" stroke="none"/>
<circle cx="236" cy="490" r="0.60" fill="#fff" stroke="none"/>
<circle cx="242" cy="489" r="0.72" fill="#fff" stroke="none"/>
<circle cx="246" cy="491" r="0.54" fill="#fff" stroke="none"/>
<circle cx="226" cy="499" r="0.72" fill="#fff" stroke="none"/>
<circle cx="234" cy="499.5" r="0.66" fill="#fff" stroke="none"/>
<circle cx="240" cy="498" r="0.60" fill="#fff" stroke="none"/>
<path d="M239,483 L246.5,485.5" stroke="#fff" stroke-width="1"/>
<path d="M222.4,462.0 L232.2,462.0 L235.3,481.5 L223.5,481.5Z" stroke-width="1.8" fill="#fff" />
<path d="M221.5,447.0 L230.7,446.5 L231.2,462.2 L222.0,462.4Z" stroke-width="1.8" fill="#fff" />
<ellipse cx="226.5" cy="452" rx="1.8" ry="1.2" stroke-width="1.2" fill="none" transform="rotate(0 226.5 452)"/>
<path d="M216.8,480.2 L219.5,472.0 L222.4,475.0" stroke-width="1.3" fill="none" />
</svg>
<div class="lbl"><div style="top:-1.1px">0323-GKFRH</div><div style="top:18.4px">0323-GKFLH</div></div>
</body></html>
